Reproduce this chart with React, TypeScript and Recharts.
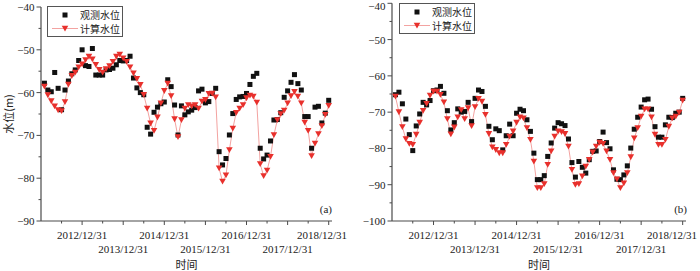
import React from 'react';
import { LineChart, Line, XAxis, YAxis, Legend } from 'recharts';

const FONT = "'Liberation Serif', 'Times New Roman', 'Noto Sans CJK SC', serif";
const CJK = "'Noto Sans CJK SC', 'Liberation Serif', serif";
const AXIS = '#4a4a4a';
const TXT = '#222';
const RED = '#e8302c';
const RED_LINE = '#f3a3a1';

const seriesNames = ['观测水位', '计算水位'];
const panelLetters = ['(a)', '(b)'];
const yTitle = '水位(m)';
const xTitle = '时间';

// month-end points, Jan 2012 .. Dec 2018
const startYear = 2012;

// x ticks: half-year minor ticks, labelled year ends
const xTicks = [2012.5, 2013, 2013.5, 2014, 2014.5, 2015, 2015.5, 2016, 2016.5, 2017, 2017.5, 2018, 2018.5, 2019];
const majorYears = [2013, 2014, 2015, 2016, 2017, 2018, 2019];
const majorLabels = ['2012/12/31', '2013/12/31', '2014/12/31', '2015/12/31', '2016/12/31', '2017/12/31', '2018/12/31'];

const yTicksA = [-90, -85, -80, -75, -70, -65, -60, -55, -50, -45, -40];
const yTicksB = [-100, -95, -90, -85, -80, -75, -70, -65, -60, -55, -50, -45, -40];

// panel (a)
const obsA = [
  -57.8, -59.4, -59.8, -55.3, -59.0, -64.0, -59.4, -57.3, -55.6, -54.7, -52.5, -50.0,
  -53.7, -53.9, -49.7, -55.9, -55.9, -55.9, -54.7, -54.6, -54.3, -53.5, -52.5, -52.6,
  -52.5, -51.5, -56.6, -58.9, -60.0, -60.5, -68.1, -69.7, -64.6, -63.4, -62.6, -62.2,
  -57.0, -58.6, -62.9, -69.9, -63.1, -65.2, -64.5, -64.1, -63.5, -59.6, -59.2, -62.4,
  -62.1, -60.2, -59.0, -73.8, -76.9, -75.4, -69.9, -64.9, -61.6, -61.0, -60.9, -60.2,
  -58.1, -56.2, -55.5, -73.0, -75.5, -74.6, -71.3, -66.4, -66.3, -64.7, -61.1, -59.6,
  -57.6, -55.8, -57.9, -59.4, -65.6, -65.6, -73.0, -63.4, -63.2, -67.1, -64.8, -61.8,
];
const calcA = [
  -58.6, -60.6, -62.0, -63.2, -64.1, -64.3, -62.2, -58.1, -56.1, -55.3, -54.1, -53.4,
  -52.4, -51.6, -52.2, -53.5, -54.7, -55.3, -54.5, -53.8, -52.8, -51.6, -51.1, -52.0,
  -52.8, -54.1, -55.5, -56.8, -58.2, -60.5, -63.7, -67.2, -68.9, -65.8, -62.5, -59.6,
  -57.9, -60.8, -66.2, -70.4, -66.4, -63.7, -62.9, -63.2, -62.9, -63.7, -62.1, -61.7,
  -60.3, -60.2, -61.1, -77.7, -80.8, -79.3, -73.4, -68.4, -64.7, -63.7, -62.9, -61.3,
  -60.7, -60.9, -62.3, -76.7, -79.5, -78.2, -75.0, -69.9, -66.4, -65.0, -64.2, -62.5,
  -60.8, -59.8, -60.9, -62.5, -67.0, -68.9, -74.8, -71.9, -69.7, -67.8, -65.2, -63.1,
];

// panel (b)
const obsB = [
  -65.2, -64.5, -67.7, -71.9, -76.2, -80.6, -73.8, -70.5, -67.3, -68.0, -66.8, -64.1,
  -63.9, -62.9, -64.8, -69.6, -74.9, -72.9, -69.1, -70.0, -69.8, -67.3, -72.6, -66.2,
  -63.9, -64.3, -68.4, -73.9, -77.6, -74.6, -75.1, -80.4, -76.5, -73.3, -76.5, -70.3,
  -69.2, -69.6, -72.1, -75.3, -81.3, -88.6, -88.6, -87.5, -82.2, -78.5, -74.4, -72.9,
  -73.2, -73.7, -77.4, -83.9, -87.9, -83.6, -85.2, -86.8, -83.1, -80.8, -80.7, -78.1,
  -75.5, -78.4, -80.1, -85.9, -88.5, -88.6, -87.3, -84.8, -79.9, -74.7, -71.4, -68.6,
  -66.6, -66.4, -69.2, -74.0, -76.9, -76.9, -73.5, -71.4, -71.5, -70.3, -70.0, -66.2,
];
const calcB = [
  -65.7, -70.0, -74.1, -77.4, -78.7, -79.0, -76.2, -72.9, -69.6, -67.7, -65.4, -64.3,
  -64.3, -65.2, -67.3, -71.9, -76.1, -74.2, -71.4, -69.4, -71.9, -68.9, -73.8, -68.6,
  -66.3, -67.1, -70.7, -76.0, -79.7, -80.4, -81.3, -81.3, -79.0, -76.7, -75.3, -72.9,
  -71.4, -71.7, -74.4, -77.6, -83.6, -90.9, -90.9, -89.8, -84.5, -80.8, -76.7, -75.3,
  -75.5, -76.0, -79.5, -85.9, -90.0, -89.8, -87.7, -85.0, -83.1, -81.1, -79.5, -78.4,
  -78.7, -80.8, -83.1, -86.8, -88.5, -90.9, -89.6, -86.8, -82.4, -77.2, -74.4, -71.2,
  -69.2, -69.2, -71.4, -76.2, -79.0, -79.0, -77.6, -74.0, -71.7, -71.2, -70.1, -66.8,
];

const buildRows = (obs: number[], calc: number[]) =>
  obs.map((o, i) => ({ t: startYear + (i + 1) / 12, obs: o, calc: calc[i] }));

const XTick = (props: any) => {
  const { x, y, payload } = props;
  const idx = majorYears.indexOf(payload.value);
  if (idx < 0) return <line x1={x} x2={x} y1={y} y2={y + 2.5} stroke={AXIS} />;
  const last = idx === majorYears.length - 1;
  return (
    <g>
      <line x1={x} x2={x} y1={y} y2={y + 4} stroke={AXIS} />
      <text
        x={last ? Math.min(x + 25, 347) : x}
        y={y + (idx % 2 === 0 ? 18 : 32)}
        textAnchor={last ? 'end' : 'middle'}
        fontSize={11}
        fill={TXT}
        fontFamily={FONT}
      >
        {majorLabels[idx]}
      </text>
    </g>
  );
};

const YTick = (props: any) => {
  const { x, y, payload } = props;
  const v = payload.value;
  if (v % 10 !== 0) return <line x1={x - 2.5} x2={x} y1={y} y2={y} stroke={AXIS} />;
  return (
    <g>
      <line x1={x - 4.5} x2={x} y1={y} y2={y} stroke={AXIS} />
      <text x={x - 6.5} y={Math.max(y + 4, 9.5)} textAnchor="end" fontSize={11} fill={TXT} fontFamily={FONT}>
        {'\u2212' + Math.abs(v)}
      </text>
    </g>
  );
};

const Square = (p: any) => (
  <rect key={`s${p.index}`} x={p.cx - 2.5} y={p.cy - 2.5} width={5} height={5} fill="#111" />
);

const Tri = (p: any) => (
  <path
    key={`t${p.index}`}
    d={`M${p.cx - 3.3},${p.cy - 2.8}L${p.cx + 3.3},${p.cy - 2.8}L${p.cx},${p.cy + 3}Z`}
    fill={RED}
  />
);

const LegendBox = () => (
  <div style={{ border: '1px solid #555', background: '#fff', width: 74, height: 29 }}>
    <svg width={74} height={29} style={{ display: 'block' }}>
      <rect x={14.5} y={5.5} width={5} height={5} fill="#111" />
      <text x={32} y={12} fontSize={10} fill={TXT} fontFamily={CJK}>{seriesNames[0]}</text>
      <line x1={4} x2={30} y1={21.5} y2={21.5} stroke={RED_LINE} />
      <path d="M13.7,18.7L20.3,18.7L17,24.5Z" fill={RED} />
      <text x={32} y={25.5} fontSize={10} fill={TXT} fontFamily={CJK}>{seriesNames[1]}</text>
    </svg>
  </div>
);

const YTitle = (props: any) => {
  const vb = props.viewBox || {};
  const cy = vb.height ? vb.y + vb.height / 2 : 114;
  const cx = 8;
  return (
    <text x={cx} y={cy} transform={`rotate(-90 ${cx} ${cy})`} textAnchor="middle" dominantBaseline="central"
      fontSize={11} fill={TXT} fontFamily={CJK}>
      {yTitle}
    </text>
  );
};

const XTitle = (props: any) => {
  const vb = props.viewBox || {};
  const cx = vb.width ? vb.x + vb.width / 2 : 186;
  return (
    <text x={cx} y={269} textAnchor="middle" fontSize={11} fill={TXT} fontFamily={CJK}>
      {xTitle}
    </text>
  );
};

type PanelProps = {
  rows: any[];
  yDomain: [number, number];
  yTicks: number[];
  top: number;
  right: number;
  yWidth: number;
  legendLeft: number;
  legendTop: number;
  letter: string;
  letterRight: number;
  showYTitle: boolean;
};

const Panel = (p: PanelProps) => (
  <div style={{ position: 'relative', width: 350, height: 271 }}>
    <LineChart width={350} height={271} data={p.rows} margin={{ top: p.top, right: p.right, bottom: 0, left: 0 }}>
      <XAxis
        dataKey="t"
        type="number"
        domain={[2012, 2019.08]}
        ticks={xTicks}
        interval={0}
        height={50}
        tickSize={0}
        tickMargin={0}
        tickLine={false}
        axisLine={{ stroke: AXIS, strokeWidth: 1.2 }}
        tick={<XTick />}
        label={<XTitle />}
        allowDataOverflow
      />
      <YAxis
        type="number"
        domain={p.yDomain}
        ticks={p.yTicks}
        interval={0}
        width={p.yWidth}
        tickSize={0}
        tickMargin={0}
        tickLine={false}
        axisLine={{ stroke: AXIS, strokeWidth: 1.2 }}
        tick={<YTick />}
        label={p.showYTitle ? <YTitle /> : undefined}
        allowDataOverflow
      />
      <Legend
        layout="vertical"
        align="center"
        verticalAlign="middle"
        content={<LegendBox />}
        wrapperStyle={{ position: 'absolute', left: p.legendLeft, top: p.legendTop, width: 'auto' }}
      />
      <Line
        dataKey="obs"
        name={seriesNames[0]}
        stroke="none"
        dot={Square}
        activeDot={false}
        isAnimationActive={false}
      />
      <Line
        dataKey="calc"
        name={seriesNames[1]}
        stroke={RED_LINE}
        strokeWidth={1}
        dot={Tri}
        activeDot={false}
        isAnimationActive={false}
      />
    </LineChart>
    <span
      style={{
        position: 'absolute', right: p.letterRight, top: 202, fontFamily: FONT, fontSize: 11, color: TXT, lineHeight: '14px',
      }}
    >
      {p.letter}
    </span>
  </div>
);

export default function App() {
  return (
    <div style={{ position: 'absolute', left: 0, top: 0, width: 700, height: 271, background: '#fff' }}>
      <div style={{ position: 'absolute', left: 0, top: 0 }}>
        <Panel
          rows={buildRows(obsA, calcA)}
          yDomain={[-90, -40]}
          yTicks={yTicksA}
          top={7}
          right={18}
          yWidth={41}
          legendLeft={47}
          legendTop={6}
          letter={panelLetters[0]}
          letterRight={18}
          showYTitle
        />
      </div>
      <div style={{ position: 'absolute', left: 350, top: 0 }}>
        <Panel
          rows={buildRows(obsB, calcB)}
          yDomain={[-100, -40]}
          yTicks={yTicksB}
          top={3.3}
          right={14}
          yWidth={42}
          legendLeft={49}
          legendTop={3}
          letter={panelLetters[1]}
          letterRight={13}
          showYTitle={false}
        />
      </div>
    </div>
  );
}
